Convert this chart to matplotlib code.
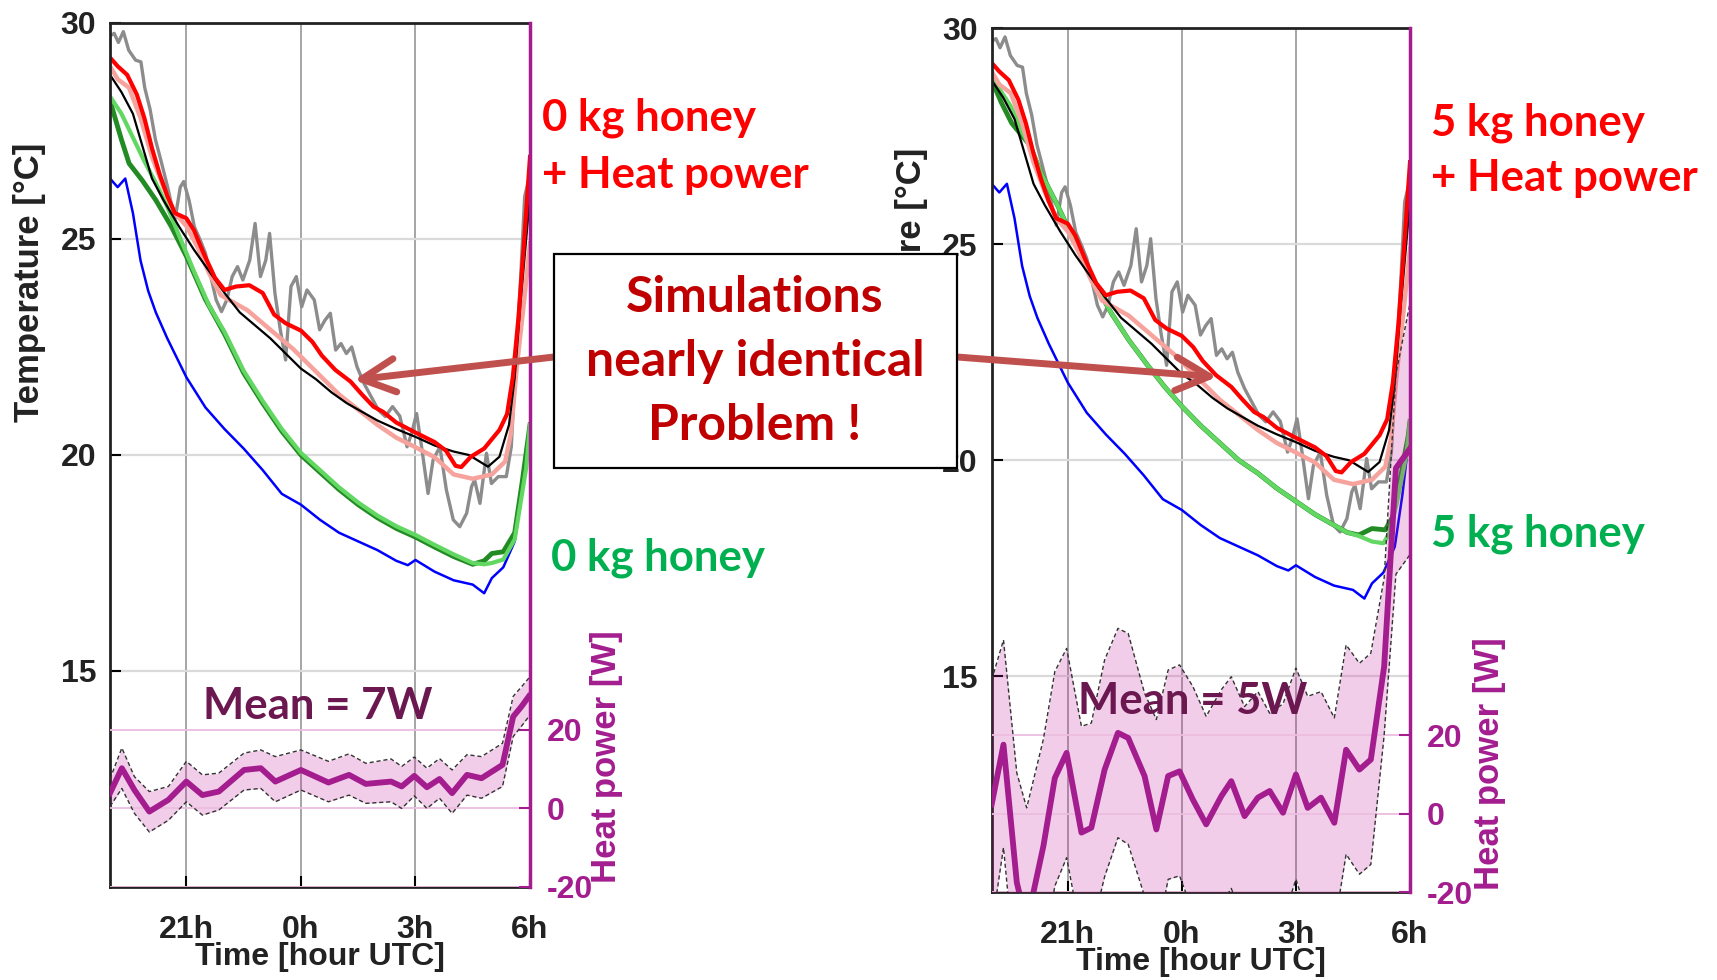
import matplotlib
matplotlib.use("Agg")
import matplotlib.pyplot as plt
from matplotlib.patches import Rectangle, FancyArrowPatch

plt.rcParams["axes.unicode_minus"] = False

# ---- measured / simulated temperatures (hours relative to midnight UTC) ----
t_gray = [-5.0, -4.89, -4.78, -4.65, -4.51, -4.33, -4.19, -4.09, -3.95, -3.81, -3.67, -3.49,
          -3.3, -3.16, -3.07, -2.93, -2.79, -2.64, -2.5, -2.36, -2.22, -2.08, -1.94, -1.8,
          -1.66, -1.52, -1.34, -1.2, -1.06, -0.92, -0.82, -0.68, -0.54, -0.4, -0.26, -0.12,
          0.02, 0.16, 0.35, 0.49, 0.63, 0.77, 0.91, 1.05, 1.19, 1.33, 1.47, 1.65, 1.84, 2.03,
          2.21, 2.4, 2.59, 2.78, 2.9, 3.03, 3.16, 3.33, 3.46, 3.64, 3.81, 3.99, 4.16, 4.34,
          4.47, 4.55, 4.69, 4.86, 4.99, 5.17, 5.38, 5.51, 5.6, 5.75, 5.86, 6.0]
temp_gray = [29.7, 29.76, 29.55, 29.8, 29.37, 29.14, 29.1, 28.5, 28.0, 27.3, 26.83, 26.2,
             25.44, 26.2, 26.33, 25.9, 25.28, 24.98, 24.67, 24.13, 23.59, 23.32, 23.59, 24.13,
             24.36, 24.05, 24.51, 25.36, 24.13, 24.51, 25.13, 23.74, 22.9, 22.2, 23.9, 24.13,
             23.43, 23.82, 23.59, 22.9, 23.12, 23.28, 22.43, 22.58, 22.35, 22.5, 22.04, 21.66,
             21.35, 21.04, 20.89, 21.12, 20.9, 20.19, 20.5, 20.96, 20.19, 19.11, 19.88, 20.19,
             19.19, 18.5, 18.34, 18.65, 19.27, 19.42, 18.88, 20.04, 19.34, 19.5, 19.5, 20.19,
             21.74, 24.0, 25.98, 26.5]

t_black = [-5.0, -4.7, -4.4, -4.2, -3.9, -3.6, -3.2, -2.8, -2.4, -2.0, -1.6, -1.2, -0.8, -0.4,
           0.0, 0.4, 0.8, 1.2, 1.6, 2.0, 2.5, 3.0, 3.5, 4.0, 4.4, 4.9, 5.2, 5.45, 5.6, 5.75,
           5.9, 6.0]
temp_black = [28.8, 28.4, 27.9, 27.3, 26.4, 25.9, 25.3, 24.75, 24.25, 23.75, 23.3, 23.0, 22.7,
              22.35, 22.0, 21.75, 21.45, 21.2, 21.0, 20.8, 20.6, 20.42, 20.22, 20.08, 20.0,
              19.73, 19.96, 20.7, 21.8, 23.5, 25.0, 26.0]

t_blue = [-5.0, -4.8, -4.6, -4.4, -4.2, -4.0, -3.8, -3.5, -3.0, -2.5, -2.0, -1.5, -1.0, -0.5,
          0.0, 0.5, 1.0, 1.5, 2.0, 2.5, 2.8, 3.0, 3.5, 4.0, 4.5, 4.8, 5.0, 5.3, 5.6, 5.8, 6.0]
temp_blue = [26.4, 26.2, 26.4, 25.6, 24.5, 23.8, 23.3, 22.7, 21.8, 21.1, 20.6, 20.15, 19.65,
             19.1, 18.85, 18.5, 18.2, 18.0, 17.8, 17.55, 17.45, 17.57, 17.3, 17.1, 17.0, 16.8,
             17.15, 17.4, 18.0, 19.2, 20.7]

t_red = [-5.0, -4.8, -4.55, -4.3, -4.1, -3.9, -3.7, -3.5, -3.3, -3.0, -2.8, -2.55, -2.25, -2.0,
         -1.7, -1.35, -1.0, -0.7, -0.4, 0.0, 0.3, 0.55, 0.9, 1.3, 1.6, 1.9, 2.15, 2.5, 3.0,
         3.5, 3.8, 4.05, 4.2, 4.45, 4.8, 5.2, 5.4, 5.55, 5.7, 5.85, 6.0]
temp_red = [29.2, 29.0, 28.8, 28.35, 27.8, 27.1, 26.5, 26.0, 25.6, 25.48, 25.2, 24.67, 24.1,
            23.82, 23.9, 23.93, 23.75, 23.25, 23.05, 22.88, 22.62, 22.3, 21.97, 21.7, 21.4,
            21.12, 21.0, 20.75, 20.52, 20.3, 20.1, 19.75, 19.72, 19.96, 20.15, 20.58, 20.95,
            21.8, 23.2, 25.0, 26.9]

t_pink = [-5.0, -4.8, -4.5, -4.2, -3.9, -3.6, -3.3, -3.0, -2.7, -2.4, -2.1, -1.8, -1.4, -1.0,
          -0.6, -0.2, 0.2, 0.6, 1.0, 1.5, 2.0, 2.5, 3.0, 3.5, 4.0, 4.5, 5.0, 5.35, 5.5, 5.65,
          5.85, 6.0]
temp_pink = [29.0, 28.7, 28.5, 27.8, 26.9, 26.2, 25.6, 25.3, 24.8, 24.2, 23.7, 23.55, 23.35,
             23.05, 22.75, 22.45, 22.1, 21.75, 21.4, 21.05, 20.7, 20.4, 20.18, 19.95, 19.55,
             19.45, 19.55, 19.85, 20.5, 22.0, 23.6, 24.9]

# 0 kg honey simulations
t_g0_dark = [-5.0, -4.7, -4.5, -4.15, -3.8, -3.4, -3.0, -2.5, -2.0, -1.5, -1.0, -0.5, 0.0, 0.5,
             1.0, 1.5, 2.0, 2.5, 3.0, 3.5, 4.0, 4.5, 4.8, 5.0, 5.3, 5.6, 5.8, 6.0]
temp_g0_dark = [28.2, 27.3, 26.75, 26.35, 25.9, 25.3, 24.6, 23.6, 22.8, 21.9, 21.2, 20.55, 20.0,
                19.6, 19.2, 18.85, 18.55, 18.3, 18.1, 17.87, 17.65, 17.47, 17.55, 17.72, 17.76,
                18.2, 19.4, 20.7]
t_g0_light = [-5.0, -4.7, -4.4, -4.1, -3.8, -3.5, -3.2, -2.8, -2.4, -2.0, -1.5, -1.0, -0.5, 0.0,
              0.5, 1.0, 1.5, 2.0, 2.5, 3.0, 3.5, 4.0, 4.5, 4.8, 5.0, 5.3, 5.6, 5.9, 6.0]
temp_g0_light = [28.3, 27.9, 27.35, 26.8, 26.3, 25.75, 25.1, 24.25, 23.45, 22.85, 21.95, 21.25,
                 20.6, 20.05, 19.65, 19.25, 18.9, 18.6, 18.35, 18.15, 17.92, 17.7, 17.5, 17.47,
                 17.5, 17.58, 18.05, 19.7, 20.7]

# 5 kg honey simulations
t_g5_dark = [-5.0, -4.74, -4.47, -4.18, -4.0, -3.7, -3.25, -2.8, -2.3, -1.85, -1.4, -0.9, -0.45,
             0.0, 0.5, 1.0, 1.5, 2.0, 2.5, 3.0, 3.5, 4.0, 4.35, 4.65, 5.0, 5.35, 5.55, 5.75,
             5.95, 6.0]
temp_g5_dark = [28.8, 28.27, 27.8, 27.49, 27.3, 26.64, 25.87, 25.02, 24.1, 23.4, 22.79, 22.2,
                21.7, 21.25, 20.8, 20.4, 20.0, 19.7, 19.35, 19.05, 18.75, 18.5, 18.33, 18.27,
                18.42, 18.39, 18.7, 19.6, 20.55, 20.9]
t_g5_light = [-5.0, -4.8, -4.5, -4.2, -3.9, -3.7, -3.25, -2.8, -2.3, -1.85, -1.4, -0.9, -0.45,
              0.0, 0.5, 1.0, 1.5, 2.0, 2.5, 3.0, 3.5, 4.0, 4.35, 4.65, 5.0, 5.3, 5.45, 5.65,
              5.9, 6.0]
temp_g5_light = [28.9, 28.6, 28.2, 27.6, 27.1, 26.64, 25.87, 25.02, 24.1, 23.4, 22.79, 22.2,
                 21.7, 21.25, 20.8, 20.4, 20.0, 19.7, 19.35, 19.05, 18.75, 18.5, 18.33, 18.25,
                 18.12, 18.08, 18.3, 19.0, 20.1, 20.9]

# heat power [W], mean and band
t_hp0 = [-5.0, -4.69, -4.36, -3.97, -3.47, -3.0, -2.58, -2.15, -1.49, -1.05, -0.67, 0.0, 0.72,
         1.26, 1.7, 2.36, 2.64, 2.97, 3.3, 3.63, 3.96, 4.35, 4.73, 5.28, 5.56, 5.78, 5.97]
hp0_mean = [3.9, 10.25, 4.7, -0.8, 2.2, 6.85, 3.4, 4.3, 9.8, 10.25, 6.85, 9.8, 6.6, 8.55, 6.25,
            6.85, 5.6, 8.3, 5.4, 7.5, 3.9, 8.55, 7.7, 11.1, 23.4, 26.0, 28.55]
hp0_hi = [7.5, 15.4, 8.1, 4.3, 5.6, 12.0, 8.55, 9.0, 14.1, 14.9, 13.2, 14.9, 12.0, 13.9, 11.5,
          12.6, 10.7, 13.1, 10.25, 12.7, 9.8, 13.7, 13.2, 16.6, 28.55, 31.0, 33.2]
hp0_lo = [0.5, 5.1, -1.25, -6.0, -3.0, 1.7, -1.7, -0.4, 4.7, 5.1, 1.7, 4.7, 1.7, 3.4, 1.3, 1.7,
          0.0, 3.2, 0.0, 2.6, -1.25, 3.4, 2.6, 5.6, 18.3, 21.0, 23.4]

t_hp5 = [-5.0, -4.69, -4.34, -4.08, -3.64, -3.34, -3.03, -2.64, -2.38, -2.03, -1.68, -1.41,
         -0.98, -0.67, -0.36, -0.06, 0.29, 0.64, 1.04, 1.3, 1.65, 2.0, 2.31, 2.66, 3.0, 3.31,
         3.66, 4.01, 4.32, 4.67, 4.97, 5.32, 5.63, 6.0]
hp5_mean = [2.4, 17.6, -17.5, -28.0, -8.2, 9.1, 15.5, -4.8, -3.55, 11.25, 20.6, 19.3, 9.6, -4.0,
            9.6, 10.8, 3.6, -2.7, 4.5, 8.3, -0.6, 4.1, 5.8, 0.25, 10.0, 1.5, 4.1, -2.3, 16.3,
            11.25, 13.8, 37.5, 88.0, 93.0]
hp5_hi = [34.1, 44.25, 10.4, 1.5, 19.0, 36.2, 42.1, 22.25, 23.1, 39.2, 47.2, 45.9, 30.7, 24.0,
          36.6, 37.9, 32.4, 24.8, 31.6, 34.9, 27.3, 31.1, 25.6, 28.0, 37.1, 29.9, 31.1, 24.4,
          43.0, 38.3, 40.9, 60.0, 112.0, 130.0]
hp5_lo = [-29.0, -8.6, -44.0, -55.0, -36.0, -18.4, -11.2, -31.0, -30.0, -16.0, -6.1, -7.8, -21.0,
          -32.0, -16.7, -15.8, -25.0, -30.0, -23.0, -19.0, -28.0, -23.0, -21.0, -27.0, -16.7,
          -26.0, -23.0, -29.0, -10.3, -15.4, -12.9, 20.0, 61.0, 66.0]

time_ticks = [-3, 0, 3, 6]
time_labels = ["21h", "0h", "3h", "6h"]

W, H = 1717, 980
PURPLE = "#a31d8e"
ARIAL = ["Liberation Sans", "DejaVu Sans"]
CALIBRI = ["Lato", "DejaVu Sans"]

fig = plt.figure(figsize=(W / 100, H / 100), dpi=100)


def panel(rect, g_dark, g_light, hp_t, hp_mean, hp_lo, hp_hi):
    ax = fig.add_axes(rect)
    ax.plot(t_gray, temp_gray, color="#8c8c8c", lw=2.4)
    ax.plot(t_blue, temp_blue, color="#0000ff", lw=1.8)
    ax.plot(*g_dark, color="#238b23", lw=3.5)
    ax.plot(*g_light, color="#62d862", lw=3.0)
    ax.plot(t_pink, temp_pink, color="#f7a39d", lw=3.2)
    ax.plot(t_black, temp_black, color="black", lw=1.6)
    ax.plot(t_red, temp_red, color="#ff0000", lw=3.0)
    ax.set_xlim(-5, 6)
    ax.set_ylim(10, 30)
    ax.set_yticks([15, 20, 25, 30])
    ax.set_xticks(time_ticks)
    ax.set_xticklabels(time_labels)
    ax.grid(axis="y", color="#dadada", lw=1.6)
    ax.grid(axis="x", color="#a5a5a5", lw=1.4)
    ax.tick_params(direction="in", length=8, width=1.5, labelsize=23, pad=10,
                   labelcolor="#222222")
    ax.tick_params(axis="x", pad=20)
    for lab in ax.get_xticklabels() + ax.get_yticklabels():
        lab.set_family(ARIAL)
        lab.set_fontweight("bold")
    for s in ["left", "bottom", "top"]:
        ax.spines[s].set_linewidth(2)
        ax.spines[s].set_color("#222222")
    ax.spines["right"].set_visible(False)
    ax.set_xlabel("Time [hour UTC]", fontsize=23, fontweight="bold", family=ARIAL,
                  labelpad=-2, color="#222222")

    hp = ax.twinx()
    hp.fill_between(hp_t, hp_lo, hp_hi, color="#c81ea0", alpha=0.22, lw=0)
    hp.plot(hp_t, hp_hi, color="#333333", lw=1.0, ls=(0, (3, 2)))
    hp.plot(hp_t, hp_lo, color="#333333", lw=1.0, ls=(0, (3, 2)))
    hp.plot(hp_t, hp_mean, color=PURPLE, lw=4.2)
    hp.set_ylim(-20, 200)
    hp.set_yticks([-20, 0, 20])
    hp.grid(axis="y", color="#ecbde0", lw=1.3)
    hp.tick_params(direction="in", length=8, width=1.5, labelsize=23, pad=12,
                   colors=PURPLE)
    for lab in hp.get_yticklabels():
        lab.set_family(ARIAL)
        lab.set_fontweight("bold")
    for s in ["left", "bottom", "top"]:
        hp.spines[s].set_visible(False)
    hp.spines["right"].set_color(PURPLE)
    hp.spines["right"].set_linewidth(2.5)
    return ax, hp


panel([110 / W, 1 - 887 / H, 420 / W, 864 / H],
      (t_g0_dark, temp_g0_dark), (t_g0_light, temp_g0_light),
      t_hp0, hp0_mean, hp0_lo, hp0_hi)
panel([991.7 / W, 1 - 892.3 / H, 418.3 / W, 864 / H],
      (t_g5_dark, temp_g5_dark), (t_g5_light, temp_g5_light),
      t_hp5, hp5_mean, hp5_lo, hp5_hi)

# overlay in pixel coordinates for labels, box and arrows
ov = fig.add_axes([0, 0, 1, 1], zorder=10)
ov.set_xlim(0, W)
ov.set_ylim(H, 0)
ov.axis("off")
ov.patch.set_alpha(0)

for x, y in [(30, 282), (911, 287)]:
    ov.text(x, y, "Temperature [°C]", rotation=90, ha="center", va="center", zorder=1,
            fontsize=25, fontweight="bold", family=ARIAL, color="#222222")
for x, y in [(606, 757), (1489, 764)]:
    ov.text(x, y, "Heat power [W]", rotation=90, ha="center", va="center", zorder=1,
            fontsize=25, fontweight="bold", family=ARIAL, color=PURPLE)

side = dict(fontsize=31.5, fontweight="bold", family=CALIBRI, ha="left", va="center")
ov.text(542, 118, "0 kg honey", color="#ff0000", **side)
ov.text(542, 175, "+ Heat power", color="#ff0000", **side)
ov.text(551, 558, "0 kg honey", color="#00b050", **side)
ov.text(1431, 123, "5 kg honey", color="#ff0000", **side)
ov.text(1431, 178, "+ Heat power", color="#ff0000", **side)
ov.text(1431, 534, "5 kg honey", color="#00b050", **side)

mean_kw = dict(fontsize=31.5, fontweight="bold", family=CALIBRI, ha="left", va="center",
               color="#6b1850")
ov.text(203, 706, "Mean = 7W", **mean_kw)
ov.text(1078, 701, "Mean = 5W", **mean_kw)

ov.add_patch(Rectangle((554, 254), 403, 214, facecolor="white", edgecolor="black", lw=1.6,
                       zorder=5))
for y, s in [(297, "Simulations"), (361, "nearly identical"), (425, "Problem !")]:
    ov.text(755, y, s, ha="center", va="center", fontsize=36, fontweight="bold",
            family=CALIBRI, color="#c00000", zorder=6)

for start, end in [((554, 357), (354, 380)), ((957, 357), (1217, 377))]:
    ov.add_patch(FancyArrowPatch(start, end, arrowstyle="->,head_length=1.2,head_width=0.6",
                                 mutation_scale=20, lw=5, color="#c0504d",
                                 shrinkA=0, shrinkB=0, zorder=4))

fig.savefig("out.png", dpi=100)
